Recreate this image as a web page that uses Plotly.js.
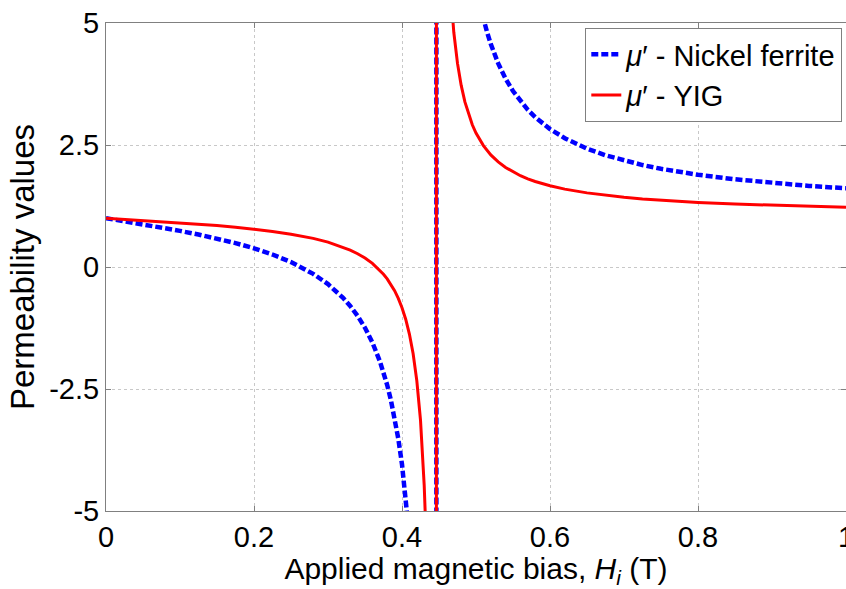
<!DOCTYPE html>
<html>
<head>
<meta charset="utf-8">
<script src="https://cdn.plot.ly/plotly-3.0.1.min.js"></script>
<style>
html, body { margin: 0; padding: 0; background: #ffffff; }
#chart { width: 846px; height: 589px; }
</style>
</head>
<body>
<div id="chart"></div>
<script>
// Applied magnetic bias H_i (T) and permeability values
const nickelX = [0, 0.025, 0.05, 0.075, 0.1, 0.125, 0.15, 0.175, 0.2, 0.225, 0.25, 0.28, 0.3, 0.32, 0.33, 0.34, 0.35, 0.36, 0.37, 0.375, 0.38, 0.385, 0.39, 0.395, 0.40, 0.405, 0.41, 0.415, 0.42, 0.43, 0.44, 0.446,
                 0.447, 0.45, 0.46, 0.48, 0.49, 0.50, 0.505, 0.51, 0.515, 0.52, 0.53, 0.54, 0.55, 0.56, 0.57, 0.58, 0.60, 0.62, 0.65, 0.675, 0.70, 0.725, 0.75, 0.80, 0.85, 0.90, 0.95, 1.00];
const nickelY = [1.000, 0.938, 0.875, 0.810, 0.740, 0.665, 0.583, 0.490, 0.383, 0.256, 0.101, -0.140, -0.351, -0.627, -0.799, -1.002, -1.247, -1.548, -1.927, -2.156, -2.419, -2.727, -3.087, -3.519, -4.044, -4.695, -5.529, -6.627, -8.151, -14.05, -39.6, -400,
                 400, 62.6, 18.8, 8.48, 6.836, 5.80, 5.415, 5.089, 4.811, 4.568, 4.172, 3.858, 3.605, 3.396, 3.220, 3.070, 2.827, 2.640, 2.426, 2.290, 2.180, 2.089, 2.012, 1.890, 1.797, 1.723, 1.662, 1.612];

const yigX = [0, 0.025, 0.05, 0.075, 0.1, 0.125, 0.15, 0.175, 0.2, 0.225, 0.25, 0.28, 0.3, 0.32, 0.33, 0.34, 0.35, 0.36, 0.37, 0.375, 0.38, 0.385, 0.39, 0.395, 0.40, 0.405, 0.41, 0.415, 0.42, 0.425, 0.4275, 0.43, 0.4325, 0.435, 0.44, 0.446,
              0.447, 0.45, 0.46, 0.465, 0.47, 0.475, 0.48, 0.485, 0.49, 0.495, 0.50, 0.51, 0.52, 0.53, 0.54, 0.55, 0.56, 0.57, 0.58, 0.60, 0.62, 0.65, 0.675, 0.70, 0.725, 0.75, 0.80, 0.85, 0.90, 0.95, 1.00];
const yigY = [1.000, 0.977, 0.955, 0.931, 0.906, 0.878, 0.848, 0.815, 0.775, 0.729, 0.673, 0.586, 0.509, 0.408, 0.346, 0.272, 0.183, 0.074, -0.064, -0.148, -0.243, -0.355, -0.486, -0.643, -0.834, -1.071, -1.374, -1.774, -2.328, -3.14, -3.72, -4.472, -5.51, -7.01, -13.76, -400,
              400, 23.4, 7.47, 5.79, 4.81, 4.172, 3.721, 3.383, 3.122, 2.915, 2.746, 2.487, 2.298, 2.154, 2.039, 1.947, 1.871, 1.807, 1.753, 1.664, 1.596, 1.519, 1.469, 1.429, 1.396, 1.368, 1.324, 1.290, 1.263, 1.241, 1.223];

const xTicks = [0, 0.2, 0.4, 0.6, 0.8, 1];
const xTickText = ["0", "0.2", "0.4", "0.6", "0.8", "1"];
const yTicks = [-5, -2.5, 0, 2.5, 5];
const yTickText = ["-5", "-2.5", "0", "2.5", "5"];

const seriesNames = ["<i>μ</i>′ - Nickel ferrite", "<i>μ</i>′ - YIG"];

const FONT = "'Liberation Sans', Arial, Helvetica, sans-serif";

const traces = [
  {
    x: nickelX, y: nickelY, type: 'scatter', mode: 'lines', name: seriesNames[0],
    line: { color: '#0000ff', width: 4.5, dash: '7px,3px' }
  },
  {
    x: yigX, y: yigY, type: 'scatter', mode: 'lines', name: seriesNames[1],
    line: { color: '#ff0000', width: 3 }
  }
];

const axisCommon = {
  showline: true, mirror: 'ticks', linecolor: '#808080', linewidth: 1,
  ticks: 'inside', ticklen: 5, tickcolor: '#808080', tickwidth: 1,
  showgrid: true, gridcolor: '#c8c8c8', griddash: 'dot', gridwidth: 1,
  zeroline: false, ticklabeloverflow: 'allow',
  tickfont: { family: FONT, size: 29, color: '#000000' }
};

const layout = {
  width: 846, height: 589,
  margin: { l: 106, r: 0, t: 23, b: 78 },
  paper_bgcolor: '#ffffff', plot_bgcolor: '#ffffff',
  font: { family: FONT, size: 29, color: '#000000' },
  showlegend: true,
  legend: {
    x: 0.995, xanchor: 'right', y: 0.99, yanchor: 'top',
    bgcolor: '#ffffff', bordercolor: '#808080', borderwidth: 1,
    font: { family: FONT, size: 29, color: '#000000' },
    itemwidth: 30, tracegroupgap: 0
  },
  xaxis: Object.assign({}, axisCommon, {
    range: [0, 1], tickvals: xTicks, ticktext: xTickText,
    title: { text: 'Applied magnetic bias, <i>H</i><sub><i>i</i></sub> (T)', font: { family: FONT, size: 30 }, standoff: 3 }
  }),
  yaxis: Object.assign({}, axisCommon, {
    range: [-5, 5], tickvals: yTicks, ticktext: yTickText,
    title: { text: 'Permeability values', font: { family: FONT, size: 33 }, standoff: 4 }
  })
};

Plotly.newPlot('chart', traces, layout, { displayModeBar: false, staticPlot: true });
</script>
</body>
</html>
